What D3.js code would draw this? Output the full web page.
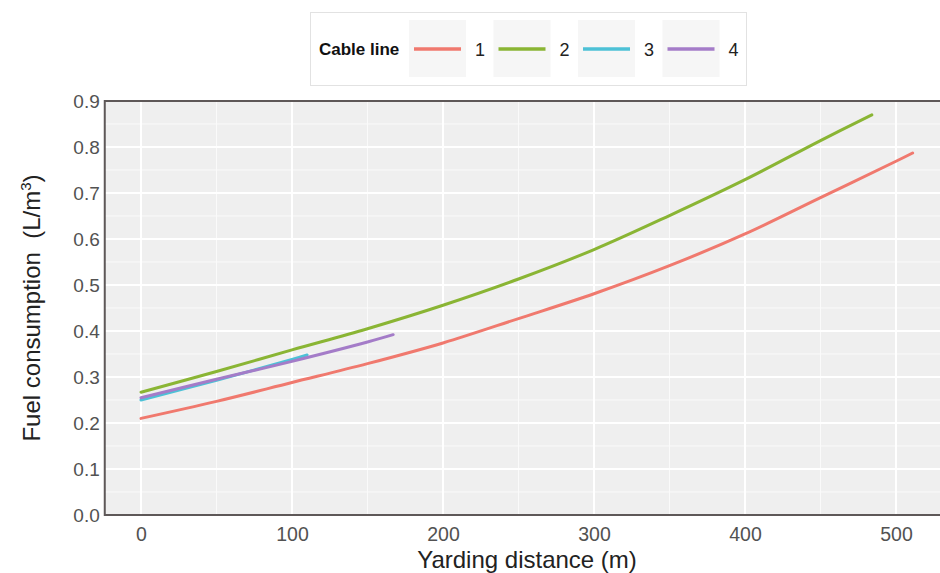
<!DOCTYPE html>
<html lang="en">
<head>
  <meta charset="UTF-8" />
  <title>Fuel consumption vs yarding distance</title>
  <script src="https://d3js.org/d3.v7.min.js"></script>
  <style>
    body { margin: 0; background: #fff; }
    text { font-family: "Liberation Sans", Arial, sans-serif; }
  </style>
</head>
<body>
  <svg id="chart" width="940" height="573"></svg>

  <script>
    // values (yarding distance m -> L/m3)
    const cableLines = ["1", "2", "3", "4"];
    const colors = ["#f0796e", "#8ab534", "#4dc1d6", "#a47cc8"];

    const dist1 = [0, 50, 100, 150, 200, 250, 300, 350, 400, 450, 500, 511];
    const fuel1 = [0.210, 0.247, 0.288, 0.329, 0.374, 0.427, 0.481, 0.542, 0.611, 0.690, 0.769, 0.787];

    const dist2 = [0, 50, 100, 150, 200, 250, 300, 350, 400, 450, 484];
    const fuel2 = [0.267, 0.312, 0.359, 0.405, 0.456, 0.513, 0.577, 0.651, 0.729, 0.814, 0.870];

    const dist3 = [0, 50, 100, 110];
    const fuel3 = [0.250, 0.293, 0.338, 0.348];

    const dist4 = [0, 50, 100, 150, 167];
    const fuel4 = [0.255, 0.295, 0.334, 0.376, 0.392];

    const xTicks = [0, 100, 200, 300, 400, 500];
    const xMinor = [50, 150, 250, 350, 450];
    const yTicks = [0, 0.1, 0.2, 0.3, 0.4, 0.5, 0.6, 0.7, 0.8, 0.9];
    const yMinor = [0.05, 0.15, 0.25, 0.35, 0.45, 0.55, 0.65, 0.75, 0.85];

    const series = [
      { name: cableLines[0], xs: dist1, ys: fuel1 },
      { name: cableLines[1], xs: dist2, ys: fuel2 },
      { name: cableLines[2], xs: dist3, ys: fuel3 },
      { name: cableLines[3], xs: dist4, ys: fuel4 }
    ];

    const svg = d3.select("#chart");

    const x = d3.scaleLinear().domain([0, 500]).range([141, 896]);
    const y = d3.scaleLinear().domain([0, 0.9]).range([515, 101]);
    const panelLeft = x(-24), panelRight = x(537);

    // panel background
    svg.append("rect")
      .attr("x", panelLeft).attr("y", y(0.9))
      .attr("width", panelRight - panelLeft).attr("height", y(0) - y(0.9))
      .attr("fill", "#efefef");

    const grid = svg.append("g");
    grid.selectAll(".vminor").data(xMinor).enter().append("line")
      .attr("x1", d => x(d)).attr("x2", d => x(d))
      .attr("y1", y(0.9)).attr("y2", y(0))
      .attr("stroke", "#fafafa").attr("stroke-width", 1);
    grid.selectAll(".hminor").data(yMinor).enter().append("line")
      .attr("x1", panelLeft).attr("x2", panelRight)
      .attr("y1", d => y(d)).attr("y2", d => y(d))
      .attr("stroke", "#fafafa").attr("stroke-width", 1);
    grid.selectAll(".vmajor").data(xTicks).enter().append("line")
      .attr("x1", d => x(d)).attr("x2", d => x(d))
      .attr("y1", y(0.9)).attr("y2", y(0))
      .attr("stroke", "#ffffff").attr("stroke-width", 2);
    grid.selectAll(".hmajor").data(yTicks).enter().append("line")
      .attr("x1", panelLeft).attr("x2", panelRight)
      .attr("y1", d => y(d)).attr("y2", d => y(d))
      .attr("stroke", "#ffffff").attr("stroke-width", 2);

    // curves
    const line = d3.line()
      .x(d => x(d[0]))
      .y(d => y(d[1]))
      .curve(d3.curveCatmullRom.alpha(0.5));

    svg.selectAll(".curve").data(series).enter().append("path")
      .attr("class", "curve")
      .attr("d", s => line(s.xs.map((v, i) => [v, s.ys[i]])))
      .attr("fill", "none")
      .attr("stroke", (s, i) => colors[i])
      .attr("stroke-width", 3)
      .attr("stroke-linecap", "round");

    // panel border (top, left, bottom)
    svg.append("path")
      .attr("d", `M${panelRight},${y(0.9)}H${panelLeft}V${y(0)}H${panelRight}`)
      .attr("fill", "none")
      .attr("stroke", "#5e5858")
      .attr("stroke-width", 2);

    // axes
    const xAxis = svg.append("g")
      .attr("transform", `translate(0,${y(0)})`)
      .call(d3.axisBottom(x).tickValues(xTicks).tickSize(0).tickPadding(12));
    xAxis.select(".domain").remove();
    xAxis.selectAll("text").attr("font-size", 19.5).attr("fill", "#525252")
      .style("font-family", "'Liberation Sans', Arial, sans-serif");

    const yAxis = svg.append("g")
      .attr("transform", `translate(${panelLeft},0)`)
      .call(d3.axisLeft(y).tickValues(yTicks).tickFormat(d3.format(".1f")).tickSize(0).tickPadding(5));
    yAxis.select(".domain").remove();
    yAxis.selectAll("text").attr("font-size", 19).attr("fill", "#525252")
      .style("font-family", "'Liberation Sans', Arial, sans-serif");

    // axis titles
    svg.append("text")
      .attr("x", 527).attr("y", 568)
      .attr("text-anchor", "middle")
      .attr("font-size", 24).attr("fill", "#222")
      .text("Yarding distance (m)");

    const yTitle = svg.append("text")
      .attr("transform", `translate(40,${y(0.45)}) rotate(-90)`)
      .attr("text-anchor", "middle")
      .attr("font-size", 24).attr("fill", "#222");
    yTitle.append("tspan").text("Fuel consumption\u00a0\u00a0(L/m");
    yTitle.append("tspan").attr("font-size", 15).attr("dy", -9).text("3");
    yTitle.append("tspan").attr("dy", 9).text(")");

    // legend
    const legend = svg.append("g");
    legend.append("rect")
      .attr("x", 310.5).attr("y", 12.5).attr("width", 436).attr("height", 73)
      .attr("fill", "#fff").attr("stroke", "#e2e2e2").attr("stroke-width", 1);
    legend.append("text")
      .attr("x", 319).attr("y", 55)
      .attr("font-size", 17).attr("font-weight", "bold").attr("fill", "#111")
      .text("Cable line");

    const keys = legend.selectAll(".key").data(cableLines).enter().append("g")
      .attr("transform", (d, i) => `translate(${409 + i * 84.5},20)`);
    keys.append("rect")
      .attr("width", 57).attr("height", 57)
      .attr("fill", "#f6f6f6");
    keys.append("line")
      .attr("x1", 5).attr("x2", 52).attr("y1", 29).attr("y2", 29)
      .attr("stroke", (d, i) => colors[i]).attr("stroke-width", 3.5);
    keys.append("text")
      .attr("x", 66).attr("y", 36)
      .attr("font-size", 18).attr("fill", "#222")
      .text(d => d);
  </script>
</body>
</html>
